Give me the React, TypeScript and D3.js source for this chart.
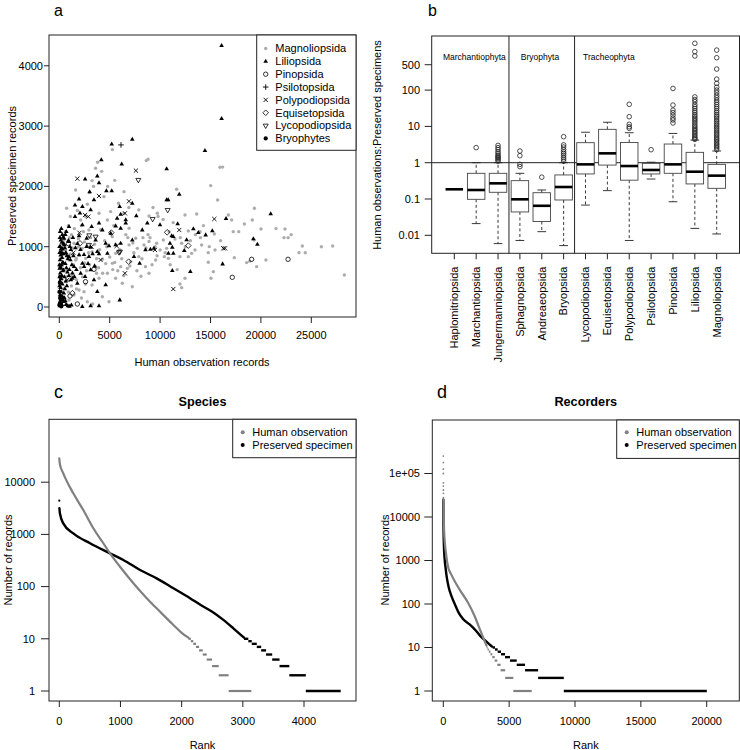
import React from "react";
import * as d3 from "d3";

// ---------- Panel a data: [human observation records, preserved specimen records]
const magnoliopsida: [number, number][] = [
  [5260,2610],[8630,2428],[3250,2096],[6420,1913],[1620,1941],[730,1637],[2780,1703],[5090,1582],[7890,1610],[8900,1510],[9730,1555],[4770,1443],[6920,1305],[7580,1140],[8900,1085],[470,1112],[1460,1056],[2280,973],[3250,918],[4270,791],[5260,724],[6090,669],[6750,641],[7080,752],[7890,835],[8550,669],[8900,559],[9560,780],[5590,476],[6250,393],[7240,337],[4270,171],[4930,88],[3250,365],[2450,254],[1960,282],[1460,199],[960,116],[2780,88],[3940,476],[4770,559],[3600,669],[2620,807],[5590,890],[6920,1030],[8400,1030],[7740,973],[1620,780],[800,614],[630,946],[5260,1167],[2940,1277],[2120,1443],[3940,1555],[5870,1720],[4430,1830],
  [15940,2317],[15020,2013],[15710,1775],[11640,1952],[12470,1526],[13630,1543],[16770,1526],[17100,1443],[18360,1377],[19350,1637],[19150,1443],[20010,1294],[17260,1250],[15380,1211],[12800,1261],[11480,1128],[14120,1029],[14880,1001],[15450,946],[14780,901],[17360,818],[18590,736],[19580,669],[14780,741],[15280,586],[15050,476],[12470,476],[11970,382],[12140,321],[13130,890],[10650,973],[10420,835],[10820,807],[11970,835],[12140,1056],[12800,835],[13460,946],[13960,1250],[9660,1056],[10000,946],[10320,1112],
  [19320,1112],[22390,1294],[22290,1150],[24110,1012],[27120,1012],[23780,901],[28280,531],[9800,1500],[10300,1450],[9300,1650],[8800,1200],[3600,2300],[4200,2250],[2400,1250],[1900,1000],[6400,1550],[6900,1650],[5400,1350],[3400,2000],[6600,1200],[7400,900],[8200,800],[9200,700],[9700,850],[10900,1250],[11300,1400],[12000,1150],[13500,1200],[14300,1350],[16000,1100],[4500,1100],[4000,950],[3700,800],[3000,700],[2700,600],[2300,500],[1700,450],[1200,350],[900,250],[500,150],[1400,700],[1100,880],[2000,860],[2500,1080],[3100,1150],[3500,1040],[4700,1000],[5000,830],[5500,740],[6200,800],[7000,680],[7700,600],[8100,510],[8600,980],[9000,1150],[10500,900],[11000,700],[11700,620],[12500,1000],[13000,1100],[14000,1150],[3900,650],[4300,560],[5800,600],[6400,520],[2100,650],[1300,520],[1700,300],[2200,150],[3300,50],[2600,380],[800,850],[1000,1150],[1500,1300],[600,1250],[350,1000],[300,700],[250,450],[400,300],[150,800],[700,500],[1200,1200],[2200,1350],[2600,1500],[3000,1900],[4800,2000],[5500,2100],
  [16200,2320],[24400,900],[22700,1150],[26000,1000],[17800,1250],[18900,760],[20500,780],[21500,1300],[23000,1200],[3800,2400],[8800,2450],[6800,1150],[4100,1280],[1800,1600],[1100,1500],[900,1350],[2900,900],[3700,560],[4600,720],[5300,620],[6000,950],[7300,1060],[8300,1150],[9500,1000],[1300,980],[1700,800],[2500,730],[600,420],[350,620],[1900,1130]
];
const liliopsida: [number, number][] = [
  [5200,2700],[7240,2780],[4170,2440],[6190,2370],[3770,2170],[2560,2120],[3940,2060],[3010,1910],[4670,1925],[5200,1925],[1960,1790],[1560,1690],[3440,1775],[2290,1665],[5990,1665],[7240,1720],[3110,1610],[1560,1500],[2050,1555],[5740,1470],[6590,1443],[7640,1510],[8730,1390],[6090,1537],[960,1333],[2290,1360],[3210,1333],[3940,1390],[4270,1277],[5100,1222],[5590,1343],[6090,1305],[6590,1390],[8230,1277],[470,1140],[960,1085],[1960,1178],[2720,1140],[3600,1110],[4600,1056],[5590,1030],[6090,1056],[7240,1110],[8550,946],[9040,957],[9390,973],[3770,918],[4770,890],[4930,1012],[960,835],[1960,863],[2940,835],[3940,880],[7410,835],[7970,724],[2290,724],[1460,669],[2460,669],[3110,614],[2120,559],[1290,476],[2560,503],[3440,448],[1790,393],[3770,254],[4600,365],[6000,116],[2280,6],[3110,17],[3940,17],
  [16100,4335],[16100,3124],[14450,2594],[10650,2290],[11900,1869],[10650,1775],[10800,1775],[9990,1360],[11740,1377],[13300,1294],[13790,1233],[14520,1194],[15180,1261],[16540,1465],[12630,1112],[11150,1178],[11310,1167],[10980,1056],[11210,990],[10820,890],[11310,890],[12400,935],[11210,603],[13000,586],[16200,713],[19250,1128],[19650,1040],[20970,1543],
  [50,20],[100,60],[150,120],[80,200],[200,250],[120,320],[300,380],[60,430],[180,470],[250,520],[90,560],[350,600],[150,650],[220,700],[400,730],[70,780],[280,820],[130,860],[450,880],[200,920],[320,960],[100,1000],[500,1030],[250,1070],[150,1110],[380,1160],[600,1200],[700,1250],[550,980],[650,900],[750,850],[850,800],[600,720],[700,650],[800,580],[500,500],[650,430],[750,350],[550,300],[450,230],[350,160],[600,100],[700,40],[850,20],[1000,10],[1200,30],[900,1100],[1050,1000],[1150,950],[1100,780],[1250,700],[1000,620],[950,520],[1150,450],[1300,560],[40,640],[30,900],[60,1150],[20,350],[200,1300],[40,80],[250,40],[400,90],[500,150],[1400,850],[1600,980],[1800,1050],[1350,1150],[1700,620],[1500,500],[2100,950],[2450,870],[2700,1000],[3100,990],[3300,880],[2850,720],[3500,680],
  [30,500],[10,700],[20,1000],[80,1250],[120,150],[10,50],[300,1200],[420,1050],[160,960],[260,880],[330,740],[110,680],[420,610],[30,260],[260,180]
];
const pinopsida: [number, number][] = [[3440,625],[19080,791],[22690,791],[17160,492],[1060,182],[1790,50],[900,1050],[2600,420],[400,60]];
const psilotopsida: [number, number][] = [[6120,2688]];
const polypodiopsida: [number, number][] = [[1790,2128],[7600,2262],[3940,1841],[6910,1753],[6510,1554],[2880,1499],[2550,1526],[5690,1012],[9490,946],[4100,780],[6510,559],[16270,973],[16440,973],[15380,1460],[11900,1277],[11310,298],[3200,1000],[2000,1230],[800,450],[1400,900]];
const equisetopsida: [number, number][] = [[5160,1233],[6880,752],[10700,1239],[12800,1018],[2050,1056],[1300,230]];
const lycopodiopsida: [number, number][] = [[7840,2107],[10750,1609],[9260,1460],[2980,1189],[6020,918],[3600,1167],[2940,1030],[5920,907]];
const bryophytes: [number, number][] = [[30,30],[80,150],[150,60],[20,250],[200,10],[60,400],[300,120],[100,500]];
const legendA = ["Magnoliopsida","Liliopsida","Pinopsida","Psilotopsida","Polypodiopsida","Equisetopsida","Lycopodiopsida","Bryophytes"];
const xTicksA = [0,5000,10000,15000,20000,25000];
const yTicksA = [0,1000,2000,3000,4000];

// ---------- Panel b data
const classes = ["Haplomitriopsida","Marchantiopsida","Jungermanniopsida","Sphagnopsida","Andreaeopsida","Bryopsida","Lycopodiopsida","Equisetopsida","Polypodiopsida","Psilotopsida","Pinopsida","Liliopsida","Magnoliopsida"];
const whiskerLow = [0.185,0.021,0.0059,0.0072,0.0126,0.0052,0.068,0.17,0.0072,0.355,0.084,0.0155,0.0109];
const quart1 = [0.185,0.098,0.153,0.044,0.024,0.094,0.49,0.86,0.33,0.49,0.51,0.26,0.197];
const medians = [0.185,0.177,0.27,0.098,0.065,0.214,0.9,1.81,0.81,0.63,0.9,0.565,0.44];
const quart3 = [0.185,0.51,0.51,0.32,0.149,0.46,3.56,8.3,3.6,0.96,3.27,1.93,0.9];
const whiskerHigh = [0.185,1.0,1.0,0.51,0.177,1.0,6.9,13,6.7,1.03,6.4,4.2,2.1];
const outliers: number[][] = [
  [],
  [2.6],
  [1.1,1.2,1.3,1.4,1.5,1.6,1.8,2.0,2.3,2.6,3.0],
  [0.78,0.9,1.56,2.1],
  [0.4],
  [1.1,1.25,1.4,1.6,1.8,2.0,2.3,2.7,3.1,5.2],
  [],
  [],
  [8.85,9.8,11.4,18.5,40.6],
  [2.28],
  [12.4,15,17,20.5,24,28,38.7,111],
  [4.4,4.7,5.1,5.6,6.2,6.8,7.5,8.2,9,10,11,12.5,14,15.5,17,19,21,24,27,31,35,40,48,55,65,870,1150,1945],
  [2.3,2.55,2.8,3.1,3.4,3.8,4.2,4.6,5.1,5.7,6.3,7,7.8,8.7,9.7,10.8,12,13.5,15,17,19,21,24,27,31,35,40,46,53,62,72,85,100,120,153,201,380,780,1265]
];
const phyla = ["Marchantiophyta","Bryophyta","Tracheophyta"];
const yTicksB = [0.01,0.1,1,10,100,500];

// ---------- Panel c data (Species): [rank, number of records]
const speciesHuman: [number, number][] = [[0,28700],[10,22000],[65,14800],[229,6120],[392,2930],[556,1310],[720,677],[829,434],[993,240],[1211,116],[1429,60],[1647,33],[1865,18.4],[2000,13],[2110,10.5]];
const speciesHumanSteps: [number, number, number][] = [[10,2110,2150],[9,2150,2190],[8,2190,2235],[7,2235,2285],[6,2285,2345],[5,2345,2410],[4,2410,2497],[3,2497,2606],[2,2606,2768],[1,2768,3139]];
const speciesSpecTop: [number, number][] = [[0,4420]];
const speciesSpec: [number, number][] = [[2,3170],[10,2540],[65,1625],[229,1046],[502,677],[829,434],[1047,324],[1320,208],[1592,144],[1865,93],[2137,60],[2330,43],[2500,33],[2682,23],[2845,15.9],[3020,10.5]];
const speciesSpecSteps: [number, number, number][] = [[10,3020,3090],[9,3090,3146],[8,3146,3228],[7,3228,3300],[6,3300,3380],[5,3380,3480],[4,3480,3600],[3,3600,3760],[2,3760,4030],[1,4030,4600]];
const xTicksC = [0,1000,2000,3000,4000];
const yTicksC = [1,10,100,1000,10000];

// ---------- Panel d data (Recorders)
const recHumanTop: [number, number][] = [[1,252000],[2,178000],[3,126000],[4,100000],[5,61000],[6,51500],[7,41800],[8,35000],[9,28000]];
const recHuman: [number, number][] = [[10,25000],[25,12000],[60,5000],[120,2500],[200,1500],[300,900],[400,650],[600,480],[900,320],[1400,180],[1900,104],[2400,51],[2800,25],[3100,15],[3280,11]];
const recHumanSteps: [number, number, number][] = [[10,3280,3360],[9,3360,3460],[8,3460,3580],[7,3580,3720],[6,3720,3900],[5,3900,4100],[4,4100,4350],[3,4350,4700],[2,4700,5320],[1,5320,6714]];
const recSpec: [number, number][] = [[0,25000],[5,12000],[15,6000],[40,2500],[100,1100],[180,650],[256,425],[400,250],[636,147],[900,95],[1143,65],[1500,45],[2000,34],[2500,24],[2915,17],[3300,13.5],[3700,10.5]];
const recSpecSteps: [number, number, number][] = [[10,3750,3927],[9,3927,4130],[8,4130,4383],[7,4383,4686],[6,4686,5066],[5,5066,5575],[4,5575,6206],[3,6206,7200],[2,7200,9150],[1,9150,20008]];
const xTicksD = [0,5000,10000,15000,20000];
const yTicksD = [1,10,100,1000,10000,100000];
const yLabelsD = ["1","10","100","1000","10000","1e+05"];

const FONT = "Liberation Sans, Arial, Helvetica, sans-serif";
const INK = "#222";
const GREY_A = "#acacac";
const GREY_C = "#808080";

function tri(x: number, y: number, h: number) {
  return `M${x},${y - h * 1.15}L${x + h},${y + h * 0.6}L${x - h},${y + h * 0.6}Z`;
}
function triDown(x: number, y: number, h: number) {
  return `M${x},${y + h * 1.15}L${x + h},${y - h * 0.6}L${x - h},${y - h * 0.6}Z`;
}
function diamond(x: number, y: number, h: number) {
  return `M${x},${y - h}L${x + h},${y}L${x},${y + h}L${x - h},${y}Z`;
}
function cross(x: number, y: number, h: number) {
  return `M${x - h},${y - h}L${x + h},${y + h}M${x - h},${y + h}L${x + h},${y - h}`;
}
function plus(x: number, y: number, h: number) {
  return `M${x - h},${y}L${x + h},${y}M${x},${y - h}L${x},${y + h}`;
}

function Symbol({ kind, x, y }: { kind: number; x: number; y: number }) {
  switch (kind) {
    case 0: return <circle cx={x} cy={y} r={1.7} fill={GREY_A} />;
    case 1: return <path d={tri(x, y, 2.3)} fill="#000" />;
    case 2: return <circle cx={x} cy={y} r={2.2} fill="none" stroke="#000" strokeWidth={0.8} />;
    case 3: return <path d={plus(x, y, 2.8)} stroke="#000" strokeWidth={0.9} />;
    case 4: return <path d={cross(x, y, 2.1)} stroke="#000" strokeWidth={0.9} />;
    case 5: return <path d={diamond(x, y, 2.8)} fill="none" stroke="#000" strokeWidth={0.8} />;
    case 6: return <path d={triDown(x, y, 2.5)} fill="none" stroke="#000" strokeWidth={0.8} />;
    default: return <circle cx={x} cy={y} r={2.1} fill="#000" />;
  }
}

function PanelA() {
  const x = d3.scaleLinear().domain([0, 25000]).range([59.3, 311.3]);
  const y = d3.scaleLinear().domain([0, 4000]).range([307, 65.8]);
  const L = 49, R = 356, T = 35, B = 317;
  const sets: [number, [number, number][]][] = [
    [0, magnoliopsida], [1, liliopsida], [2, pinopsida], [3, psilotopsida],
    [4, polypodiopsida], [5, equisetopsida], [6, lycopodiopsida], [7, bryophytes],
  ];
  return (
    <g>
      {sets.map(([k, pts]) =>
        pts.map((p, i) => <Symbol key={`${k}-${i}`} kind={k} x={x(p[0])} y={y(p[1])} />)
      )}
      <rect x={L} y={T} width={R - L} height={B - T} fill="none" stroke={INK} strokeWidth={1} />
      {xTicksA.map((t) => (
        <g key={t}>
          <line x1={x(t)} x2={x(t)} y1={B} y2={B + 6} stroke={INK} />
          <text x={x(t)} y={339} textAnchor="middle" fontSize={11}>{t}</text>
        </g>
      ))}
      {yTicksA.map((t) => (
        <g key={t}>
          <line x1={L - 5} x2={L} y1={y(t)} y2={y(t)} stroke={INK} />
          <text x={43} y={y(t)} dy="0.35em" textAnchor="end" fontSize={11}>{t}</text>
        </g>
      ))}
      <text x={202} y={366} textAnchor="middle" fontSize={11}>Human observation records</text>
      <text transform={`translate(16,176) rotate(-90)`} textAnchor="middle" fontSize={11}>Preserved specimen records</text>
      <text x={54} y={16} fontSize={16}>a</text>
      <rect x={256.7} y={T} width={R - 256.7} height={115.3} fill="#fff" stroke={INK} />
      {legendA.map((name, i) => {
        const ly = 48.5 + i * 12.85;
        return (
          <g key={name}>
            <Symbol kind={i} x={265.7} y={ly} />
            <text x={275.3} y={ly} dy="0.35em" fontSize={11}>{name}</text>
          </g>
        );
      })}
    </g>
  );
}

function PanelB() {
  const x = d3.scaleLinear().domain([1, 13]).range([454.3, 716.7]);
  const y = d3.scaleLog().domain([0.01, 1000]).range([235.3, 53.8]);
  const L = 431.7, R = 739.5, T = 36, B = 253.3;
  const bw = 17.5;
  return (
    <g>
      <line x1={L} x2={R} y1={y(1)} y2={y(1)} stroke={INK} />
      {[3.5, 6.5].map((v) => (
        <line key={v} x1={x(v)} x2={x(v)} y1={T} y2={B} stroke={INK} />
      ))}
      {classes.map((c, i) => {
        const cx = x(i + 1);
        if (quart1[i] === quart3[i]) {
          return <line key={c} x1={cx - bw / 2} x2={cx + bw / 2} y1={y(medians[i])} y2={y(medians[i])} stroke="#000" strokeWidth={2.6} />;
        }
        return (
          <g key={c}>
            <line x1={cx} x2={cx} y1={y(quart3[i])} y2={y(whiskerHigh[i])} stroke={INK} strokeDasharray="3,2.5" strokeWidth={0.9} />
            <line x1={cx} x2={cx} y1={y(quart1[i])} y2={y(whiskerLow[i])} stroke={INK} strokeDasharray="3,2.5" strokeWidth={0.9} />
            <line x1={cx - bw / 4} x2={cx + bw / 4} y1={y(whiskerHigh[i])} y2={y(whiskerHigh[i])} stroke={INK} strokeWidth={0.9} />
            <line x1={cx - bw / 4} x2={cx + bw / 4} y1={y(whiskerLow[i])} y2={y(whiskerLow[i])} stroke={INK} strokeWidth={0.9} />
            <rect x={cx - bw / 2} y={y(quart3[i])} width={bw} height={y(quart1[i]) - y(quart3[i])} fill="#fff" stroke="#444" strokeWidth={0.9} />
            <line x1={cx - bw / 2} x2={cx + bw / 2} y1={y(medians[i])} y2={y(medians[i])} stroke="#000" strokeWidth={2.6} />
            {outliers[i].map((o, j) => (
              <circle key={j} cx={cx} cy={y(o)} r={2.3} fill="none" stroke={INK} strokeWidth={0.8} />
            ))}
          </g>
        );
      })}
      <rect x={L} y={T} width={R - L} height={B - T} fill="none" stroke={INK} strokeWidth={1} />
      <text x={474.3} y={56.7} dy="0.35em" textAnchor="middle" fontSize={8.5}>{phyla[0]}</text>
      <text x={540} y={56.7} dy="0.35em" textAnchor="middle" fontSize={8.5}>{phyla[1]}</text>
      <text x={583} y={56.7} dy="0.35em" textAnchor="start" fontSize={8.5}>{phyla[2]}</text>
      {yTicksB.map((t) => (
        <g key={t}>
          <line x1={L - 7} x2={L} y1={y(t)} y2={y(t)} stroke={INK} />
          <text x={420} y={y(t)} dy="0.35em" textAnchor="end" fontSize={11}>{String(t)}</text>
        </g>
      ))}
      {classes.map((c, i) => (
        <g key={c}>
          <line x1={x(i + 1)} x2={x(i + 1)} y1={B} y2={B + 6} stroke={INK} />
          <text transform={`translate(${x(i + 1)},266.5) rotate(-90)`} dy="0.35em" textAnchor="end" fontSize={11}>{c}</text>
        </g>
      ))}
      <text transform={`translate(381,145) rotate(-90)`} textAnchor="middle" fontSize={11}>Human observations:Preserved specimens</text>
      <text x={428} y={16} fontSize={16}>b</text>
    </g>
  );
}

function RankPanel(props: {
  L: number; R: number; T: number; B: number;
  x: d3.ScaleLinear<number, number>; y: d3.ScaleLogarithmic<number, number>;
  xTicks: number[]; yTicks: number[]; yLabels: string[]; yLabelRight: number;
  human: [number, number][]; humanTop: [number, number][]; humanSteps: [number, number, number][];
  spec: [number, number][]; specTop: [number, number][]; specSteps: [number, number, number][];
  title: string; letter: string; letterX: number; yTitleX: number; legendL: number;
}) {
  const { L, R, T, B, x, y } = props;
  const line = d3.line<[number, number]>().x((d) => x(d[0])).y((d) => y(d[1])).curve(d3.curveMonotoneX);
  const cx = (L + R) / 2;
  return (
    <g>
      <path d={line(props.spec) || ""} fill="none" stroke="#000" strokeWidth={2.4} strokeLinecap="round" />
      {props.specTop.map((p, i) => <circle key={i} cx={x(p[0])} cy={y(p[1])} r={1.1} fill="#000" />)}
      {props.specSteps.map((s, i) => (
        <line key={i} x1={x(s[1])} x2={x(s[2])} y1={y(s[0])} y2={y(s[0])} stroke="#000" strokeWidth={2.4} />
      ))}
      <path d={line(props.human) || ""} fill="none" stroke={GREY_C} strokeWidth={2.2} strokeLinecap="round" />
      {props.humanTop.map((p, i) => <circle key={i} cx={x(p[0])} cy={y(p[1])} r={0.9} fill={GREY_C} />)}
      {props.humanSteps.map((s, i) => (
        <line key={i} x1={x(s[1])} x2={x(s[2])} y1={y(s[0])} y2={y(s[0])} stroke={GREY_C} strokeWidth={2.2} />
      ))}
      <rect x={L} y={T} width={R - L} height={B - T} fill="none" stroke={INK} />
      {props.xTicks.map((t) => (
        <g key={t}>
          <line x1={x(t)} x2={x(t)} y1={B} y2={B + 6} stroke={INK} />
          <text x={x(t)} y={725} textAnchor="middle" fontSize={11}>{t}</text>
        </g>
      ))}
      {props.yTicks.map((t, i) => (
        <g key={t}>
          <line x1={L - 8} x2={L} y1={y(t)} y2={y(t)} stroke={INK} />
          <text x={props.yLabelRight} y={y(t)} dy="0.35em" textAnchor="end" fontSize={11}>{props.yLabels[i]}</text>
        </g>
      ))}
      <text x={cx} y={749} textAnchor="middle" fontSize={11}>Rank</text>
      <text transform={`translate(${props.yTitleX},560) rotate(-90)`} textAnchor="middle" fontSize={11}>Number of records</text>
      <text x={cx} y={405.5} textAnchor="middle" fontSize={12.7} fontWeight="bold">{props.title}</text>
      <text x={props.letterX} y={398} fontSize={18}>{props.letter}</text>
      <rect x={props.legendL} y={T} width={R - props.legendL} height={38.4} fill="#fff" stroke={INK} />
      <circle cx={props.legendL + 10} cy={432.3} r={2} fill={GREY_C} />
      <text x={props.legendL + 19.6} y={432.3} dy="0.35em" fontSize={11}>Human observation</text>
      <circle cx={props.legendL + 10} cy={445} r={2} fill="#000" />
      <text x={props.legendL + 19.6} y={445} dy="0.35em" fontSize={11}>Preserved specimen</text>
    </g>
  );
}

export default function App() {
  const xc = d3.scaleLinear().domain([0, 4000]).range([59.3, 304]);
  const yc = d3.scaleLog().domain([1, 10000]).range([691, 482.2]);
  const xd = d3.scaleLinear().domain([0, 20000]).range([443.3, 706.7]);
  const yd = d3.scaleLog().domain([1, 100000]).range([691, 473.5]);
  return (
    <svg width={740} height={750} style={{ position: "absolute", left: 0, top: 0, background: "#fff" }} fontFamily={FONT}>
      <rect x={0} y={0} width={740} height={750} fill="#fff" />
      <PanelA />
      <PanelB />
      <RankPanel L={49} R={356} T={419.3} B={701} x={xc} y={yc}
        xTicks={xTicksC} yTicks={yTicksC} yLabels={yTicksC.map(String)} yLabelRight={35}
        human={speciesHuman} humanTop={[]} humanSteps={speciesHumanSteps}
        spec={speciesSpec} specTop={speciesSpecTop} specSteps={speciesSpecSteps}
        title="Species" letter="c" letterX={54} yTitleX={12} legendL={232.7} />
      <RankPanel L={432.3} R={739.3} T={420} B={701} x={xd} y={yd}
        xTicks={xTicksD} yTicks={yTicksD} yLabels={yLabelsD} yLabelRight={420}
        human={recHuman} humanTop={recHumanTop} humanSteps={recHumanSteps}
        spec={recSpec} specTop={[]} specSteps={recSpecSteps}
        title="Recorders" letter="d" letterX={437} yTitleX={389} legendL={616.7} />
    </svg>
  );
}
